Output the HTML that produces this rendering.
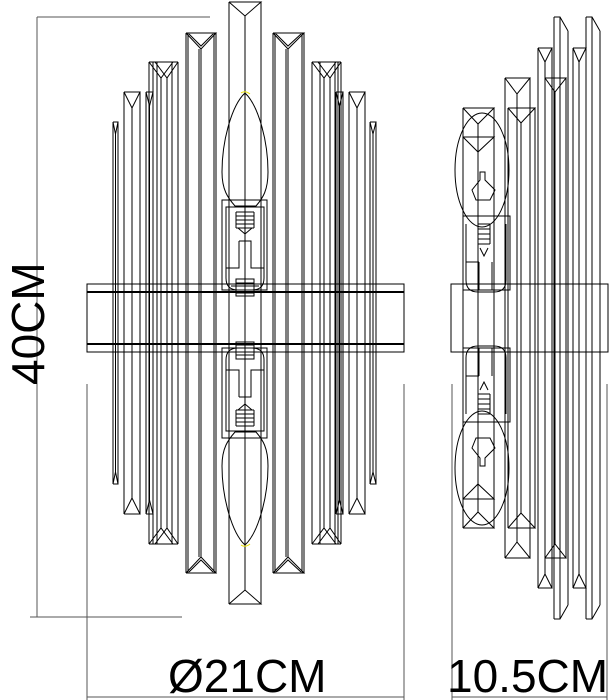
<!DOCTYPE html>
<html><head><meta charset="utf-8"><style>
html,body{margin:0;padding:0;background:#fff;}
svg{display:block;}
text{font-family:"Liberation Sans",Arial,sans-serif;fill:#000;}
</style></head><body>
<svg width="610" height="700" viewBox="0 0 610 700" xmlns="http://www.w3.org/2000/svg">
<defs>
<g id="frods" fill="none" stroke="#000" stroke-width="1">
  <!-- center rod -->
  <path d="M229 2V303M261 2V303M229 2H261L245 16L229 2M245 16V303"/>
  <!-- 186-216 -->
  <path d="M186 33V303M216 33V303M188 33V303M214 33V303M186 33H216L201 49L186 33M189 34L201 46L213 34M201 49V303M199 49V303"/>
  <path d="M273 33V303M304 33V303M275 33V303M302 33V303M273 33H304L288 49L273 33M276 34L288 46L301 34M288 49V303M286 49V303"/>
  <!-- 149-178 group -->
  <path d="M149 62V303M178 62V303M149 62H178M149 62L161 78L173 62M155 62L167 78L178 62M161 78V303M167 78V303M157 62V303M172 62V303M153 62V303"/>
  <path d="M312 62V303M341 62V303M312 62H341M312 62L324 78L336 62M318 62L330 78L341 62M324 78V303M330 78V303M320 62V303M335 62V303M338 62V303"/>
  <!-- 124-140 -->
  <path d="M124 92V303M140 92V303M124 92H140L132 108L124 92M132 108V303"/>
  <path d="M349 92V303M365 92V303M349 92H365L357 108L349 92M357 108V303"/>
  <path d="M146 92V303M153 92V303M146 92H153L149.5 106L146 92M149.5 106V303"/>
  <path d="M336 92V303M343 92V303M336 92H343L339.5 106L336 92M339.5 106V303"/>
  <!-- thin -->
  <path d="M113 122V303M118 122V303M113 122H118L115.5 134L113 122M115.5 134V303"/>
  <path d="M370 122V303M376 122V303M370 122H376L373 134L370 122M373 134V303"/>
</g>
<g id="fbulb" fill="none" stroke="#000" stroke-width="1">
  <path d="M245 93C232 105 222 140 222 172C222 190 228 198 235 206L256 206C263 198 268 190 268 172C268 140 258 105 245 93Z"/>
  <path d="M241 93Q245 90 250 94" stroke="#e8e000"/>
  <rect x="222" y="200" width="45" height="90"/>
  <path d="M226 207V278Q226 290 238 290H252Q264 290 264 278V207Z"/>
  <path d="M236 212H254M236 216H254M236 220H254M236 224H254M236 228H254M238 228L245 234L252 228M236 212V228M254 212V228"/>
  <path d="M239 241H251V268H264M239 241V268H226"/>
  <rect x="236" y="279" width="18" height="17"/>
  <path d="M231 286H259M236 283H254M236 290H254M236 293H254"/>
</g>
<g id="srods" fill="none" stroke="#000" stroke-width="1">
  <path d="M463 108V318M494 108V318M463 108H494L478 124L463 108M478 124V318"/>
  <path d="M463 137H494L478 152L463 137"/>
  <path d="M505 78V318M530 78V318M505 78H530L517 94L505 78M517 94V318"/>
  <path d="M508 108V318M535 108V318M508 108H535L521 123L508 108M521 123V318"/>
  <path d="M538 48V318M552 48V318M538 48H552L545 62L538 48M545 62V318"/>
  <path d="M545 78V318M566 78V318M545 78H566L555 92L545 78M555 92V318"/>
  <path d="M554 17V318M560 17V318M568 31V318M554 17H560L568 31"/>
  <path d="M573 48V318M586 48V318M573 48H586L579 62L573 48M579 62V318"/>
  <path d="M586 17V318M592 17V318M600 31V318M586 17H592L600 31"/>
</g>
<g id="sbulb" fill="none" stroke="#000" stroke-width="1">
  <ellipse cx="482" cy="170" rx="27" ry="57"/>
  <rect x="463" y="216" width="47" height="74"/>
  <path d="M466 224V280Q466 292 478 292H494Q506 292 506 280V224"/>
  <path d="M476 200H490L495 190L485 180V172H480V180L472 190Z"/>
  <path d="M478 224H490M478 229H490M478 234H490M478 239H490M478 244H490M478 224V244M490 224V244M480 248L484 256L488 248"/>
  <path d="M479 262V290M492 262V290M466 262H479"/>
</g>
</defs>

<use href="#frods"/>
<use href="#frods" transform="translate(0,606) scale(1,-1)"/>
<use href="#fbulb"/>
<use href="#fbulb" transform="translate(0,638) scale(1,-1)"/>
<use href="#srods"/>
<use href="#srods" transform="translate(0,636) scale(1,-1)"/>
<use href="#sbulb"/>
<use href="#sbulb" transform="translate(0,638) scale(1,-1)"/>

<!-- front bar -->
<g fill="none" stroke="#000">
  <rect x="87" y="284" width="317" height="68" stroke-width="1"/>
  <line x1="87" y1="292" x2="404" y2="292" stroke-width="2"/>
  <line x1="87" y1="344" x2="404" y2="344" stroke-width="2"/>
  <rect x="451" y="284" width="157" height="68" stroke-width="1"/>
</g>

<!-- dimensions -->
<g stroke="#555" stroke-width="1" fill="none">
  <line x1="37" y1="17" x2="37" y2="617"/>
  <line x1="37" y1="17" x2="210" y2="17"/>
  <line x1="30" y1="617" x2="182" y2="617"/>
  <line x1="87" y1="384" x2="87" y2="700"/>
  <line x1="404" y1="384" x2="404" y2="700"/>
  <line x1="452" y1="384" x2="452" y2="700"/>
  <line x1="607" y1="384" x2="607" y2="700"/>
  <line x1="87" y1="697" x2="404" y2="697"/>
  <line x1="452" y1="697" x2="607" y2="697"/>
</g>
<text x="0" y="0" font-size="46" transform="translate(44,385) rotate(-90)">40CM</text>
<text x="168" y="692" font-size="46">Ø21CM</text>
<text x="447" y="692" font-size="46">10.5CM</text>
</svg>
</body></html>
